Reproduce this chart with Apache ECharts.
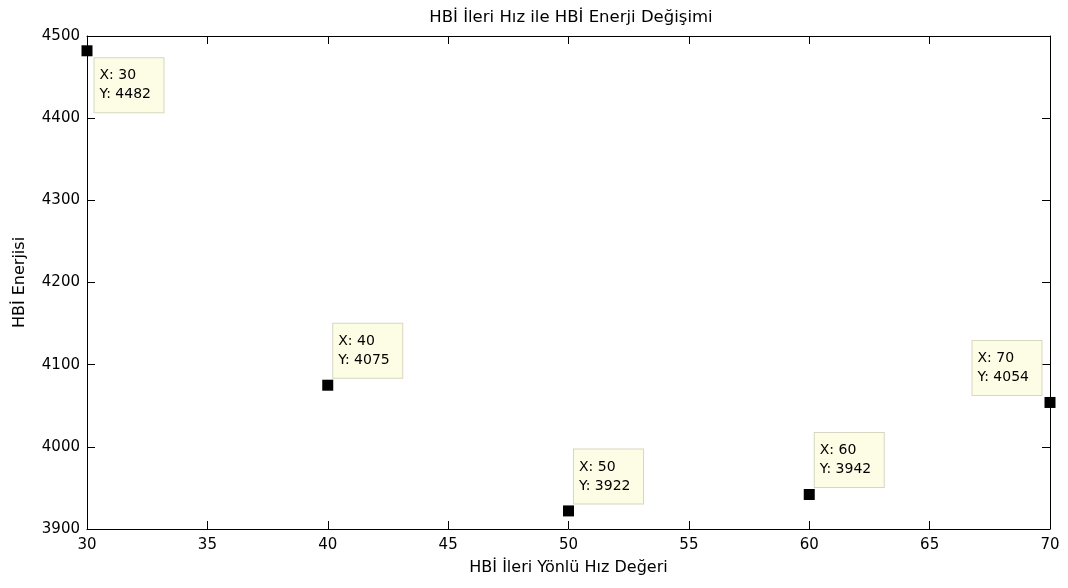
<!DOCTYPE html>
<html>
<head>
<meta charset="utf-8">
<script src="https://cdn.jsdelivr.net/npm/echarts@6/dist/echarts.min.js"></script>
<style>
  html, body { margin: 0; padding: 0; background: #fff; }
  #main { width: 1068px; height: 588px; }
</style>
</head>
<body>
<div id="main"></div>
<script>
// hız değerleri ve enerji değerleri
var hiz = [30, 40, 50, 60, 70];
var enerji = [4482, 4075, 3922, 3942, 4054];

var font = "'DejaVu Sans', 'Liberation Sans', sans-serif";

// data tip kutusu: ilk nokta sağ alta, son nokta sol üste, diğerleri sağ üste
function tipLabel(i) {
    if (i === 0) return { position: [13, 13], verticalAlign: 'top' };
    if (i === hiz.length - 1) return { position: [-72, -2], verticalAlign: 'bottom' };
    return { position: [11, -2], verticalAlign: 'bottom' };
}

var noktalar = hiz.map(function (x, i) {
    return { value: [x, enerji[i]], label: tipLabel(i) };
});

var myChart = echarts.init(document.getElementById('main'));

var axisLine = { show: true, lineStyle: { color: '#000', width: 1 } };
var axisTick = { show: true, inside: true, length: 8, lineStyle: { color: '#000' } };

myChart.setOption({
    animation: false,
    title: {
        text: 'HBİ İleri Hız ile HBİ Enerji Değişimi',
        left: 566, top: 4, textAlign: 'center',
        textStyle: { fontFamily: font, fontSize: 16.5, fontWeight: 'normal', color: '#000' }
    },
    grid: { left: 87, right: 18, top: 36, bottom: 59 },
    xAxis: [
        {
            type: 'value', min: 30, max: 70, interval: 5,
            name: 'HBİ İleri Yönlü Hız Değeri',
            nameLocation: 'middle', nameGap: 31,
            nameTextStyle: { fontFamily: font, fontSize: 16, color: '#000' },
            axisLine: axisLine, axisTick: axisTick, splitLine: { show: false },
            axisLabel: { fontFamily: font, fontSize: 15, color: '#000', margin: 9 }
        },
        {
            type: 'value', position: 'top', min: 30, max: 70, interval: 5,
            axisLine: axisLine, axisTick: axisTick, splitLine: { show: false },
            axisLabel: { show: false }
        }
    ],
    yAxis: [
        {
            type: 'value', min: 3900, max: 4500, interval: 100,
            name: 'HBİ Enerjisi',
            nameLocation: 'middle', nameGap: 59,
            nameTextStyle: { fontFamily: font, fontSize: 16, color: '#000' },
            axisLine: axisLine, axisTick: axisTick, splitLine: { show: false },
            axisLabel: { fontFamily: font, fontSize: 15, color: '#000', margin: 7,
                formatter: function (v) { return String(v); } }
        },
        {
            type: 'value', position: 'right', min: 3900, max: 4500, interval: 100,
            axisLine: axisLine, axisTick: axisTick, splitLine: { show: false },
            axisLabel: { show: false }
        }
    ],
    series: [{
        type: 'scatter',
        symbol: 'rect',
        symbolSize: 11,
        clip: false,
        itemStyle: { color: '#000', opacity: 1 },
        data: noktalar,
        label: {
            show: true,
            formatter: function (p) {
                return 'X: ' + p.value[0] + '\nY: ' + p.value[1];
            },
            fontFamily: font, fontSize: 14, color: '#000',
            lineHeight: 19,
            width: 59,
            align: 'left',
            backgroundColor: '#fdfde6',
            borderColor: '#d6d6c2',
            borderWidth: 1,
            padding: [8, 5, 8, 5]
        },
        emphasis: { disabled: true }
    }]
});
</script>
</body>
</html>
